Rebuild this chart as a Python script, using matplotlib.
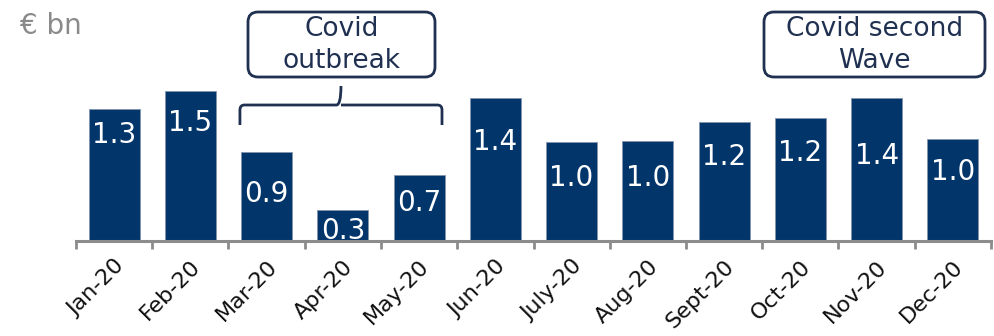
import matplotlib
matplotlib.use("Agg")
import matplotlib.pyplot as plt
from matplotlib.patches import FancyBboxPatch, PathPatch
from matplotlib.path import Path
import numpy as np

months = ["Jan-20", "Feb-20", "Mar-20", "Apr-20", "May-20", "Jun-20",
          "July-20", "Aug-20", "Sept-20", "Oct-20", "Nov-20", "Dec-20"]
values = [1.32, 1.50, 0.89, 0.31, 0.66, 1.43, 0.99, 1.00, 1.19, 1.23, 1.43, 1.02]
labels = ["1.3", "1.5", "0.9", "0.3", "0.7", "1.4", "1.0", "1.0", "1.2", "1.2", "1.4", "1.0"]
unit = "€ bn"
box1 = "Covid\noutbreak"
box2 = "Covid second\nWave"

# layout: label offset below bar top (points)
label_offsets = [19, 23, 30, 15, 20, 32, 26, 27, 25, 25, 42, 24]

plt.rcParams['font.family'] = ['DejaVu Sans']
bar_color = "#02356a"
navy = "#1f3050"
gray = "#8c8c8c"

fig = plt.figure(figsize=(9.95, 3.36), dpi=100)
ax = fig.add_axes([76/995, 1-241/336, (991-76)/995, 241/336])
x = np.arange(len(months))
ax.bar(x, values, width=0.67, color=bar_color, edgecolor="#8394ad", linewidth=0.6, zorder=2)
ax.set_xlim(-0.5, len(months)-0.5)
ax.set_ylim(0, 2.41)
for s in ["top", "right", "left"]:
    ax.spines[s].set_visible(False)
ax.spines["bottom"].set_color(gray)
ax.spines["bottom"].set_linewidth(2.2)
ax.set_yticks([])
ax.set_xticks(x)
ax.set_xticklabels(months, rotation=45, ha="right", rotation_mode="anchor",
                   fontsize=16, color="#111111")
ax.tick_params(axis="x", which="major", length=0, pad=11)
ax.set_xticks(np.arange(len(months)+1)-0.5, minor=True)
ax.tick_params(axis="x", which="minor", length=6, width=2, color=gray)

for xi, v, lab, off in zip(x, values, labels, label_offsets):
    ax.annotate(lab, (xi, v), xytext=(0, -off), textcoords="offset points",
                ha="center", va="center", color="white", fontsize=20, zorder=3)

fig.text(20/995, 1-26/336, unit, fontsize=20, color="#8a8a8a", va="center",
         ha="left")

def box(x0, x1, y0, y1, text):
    p = FancyBboxPatch((x0, 336-y1), x1-x0, y1-y0,
                       boxstyle="round,pad=0,rounding_size=10",
                       transform=None, facecolor="white", edgecolor=navy, linewidth=2)
    fig.patches.append(p)
    fig.text((x0+x1)/2/995, 1-(y0+y1)/2/336, text, ha="center", va="center",
             fontsize=19, color=navy, linespacing=1.3)

box(248, 435, 12, 77, box1)
box(764, 985, 12, 77, box2)

# brace over Mar-May in data coordinates
bx0, bx1 = 1.65, 4.3
bm = (bx0 + bx1) / 2
ytop, yend, ytip = 1.36, 1.16, 1.55
r = 0.06
verts = [(bx0, yend), (bx0, ytop - 0.05), (bx0, ytop), (bx0 + r, ytop),
         (bm - r, ytop), (bm, ytop), (bm, ytip),
         (bm, ytop), (bm + r, ytop),
         (bx1 - r, ytop), (bx1, ytop), (bx1, ytop - 0.05), (bx1, yend)]
codes = [Path.MOVETO, Path.LINETO, Path.CURVE3, Path.CURVE3,
         Path.LINETO, Path.CURVE3, Path.CURVE3,
         Path.MOVETO, Path.LINETO,
         Path.LINETO, Path.CURVE3, Path.CURVE3, Path.LINETO]
ax.add_patch(PathPatch(Path(verts, codes), facecolor="none", edgecolor=navy,
                       linewidth=2, clip_on=False))

fig.savefig("out.png", dpi=100)
